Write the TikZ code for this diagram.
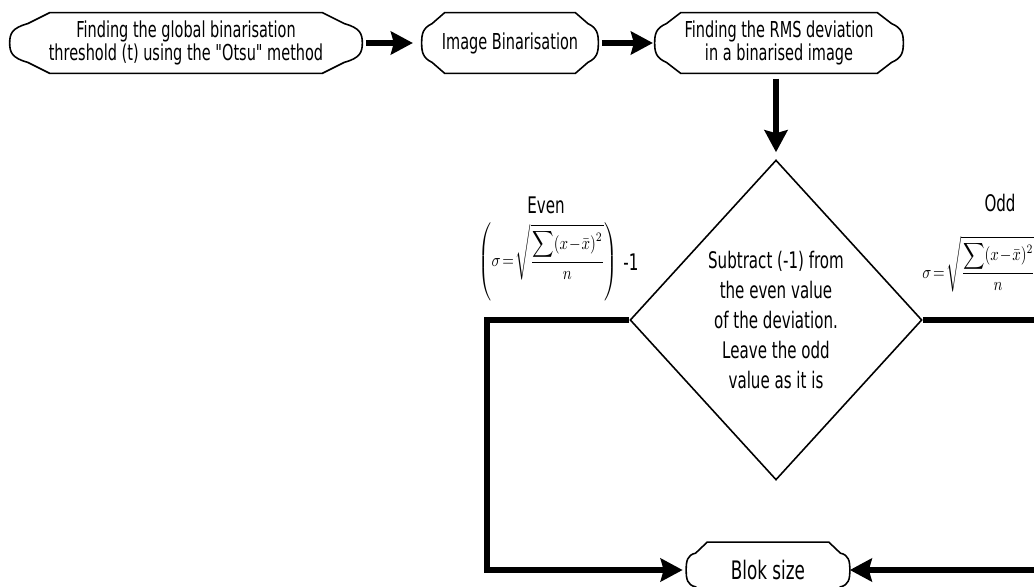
\documentclass[tikz,border=0pt]{standalone}
\usepackage{fontspec}
\usepackage{graphicx}
\setmainfont{DejaVu Sans}[FakeStretch=0.66, Ligatures=TeXOff]
\usetikzlibrary{shapes.geometric,arrows.meta,calc,positioning}

\tikzset{
  term/.style={align=center, inner sep=0pt, minimum height=1.2cm,
               font=\fontsize{12.5}{12.6}\selectfont},
  termline/.style={line width=0.9pt},
  decide/.style={diamond, draw, line width=0.9pt, align=center, inner sep=0pt,
                 minimum width=5.84cm, minimum height=6.4cm,
                 font=\fontsize{13}{17}\selectfont},
  flow/.style={line width=3.4pt, -{Stealth[length=0.44cm,width=0.46cm,inset=0.06cm]}},
  caseword/.style={font=\fontsize{13}{15}\selectfont, inner sep=1pt},
  formula/.style={inner sep=0pt, font=\fontsize{10}{12}\selectfont},
}

% deviation formula used for both cases
\newcommand{\rmsdev}{\sigma\!=\!\sqrt{\frac{\displaystyle\sum\nolimits(x\!-\!\bar{x})^2}{n}}}

% rounded terminal outline round a node: #1 node, #2 inset (px)
\newcommand{\termframe}[2]{%
  \draw[termline]
    ($(#1.north west)+(#2,0)$) -- ($(#1.north east)+(-#2,0)$)
    -- ($(#1.north east)+(-0.45*#2,11)$)
    .. controls ($(#1.east)+(-0.05*#2,-15)$) and ($(#1.east)+(0,-9)$) .. (#1.east)
    .. controls ($(#1.east)+(0,9)$) and ($(#1.east)+(-0.05*#2,15)$) .. ($(#1.south east)+(-0.45*#2,-11)$)
    -- ($(#1.south east)+(-#2,0)$) -- ($(#1.south west)+(#2,0)$)
    -- ($(#1.south west)+(0.45*#2,-11)$)
    .. controls ($(#1.west)+(0.05*#2,15)$) and ($(#1.west)+(0,9)$) .. (#1.west)
    .. controls ($(#1.west)+(0,-9)$) and ($(#1.west)+(0.05*#2,-15)$) .. ($(#1.north west)+(0.45*#2,11)$)
    -- cycle;}

\begin{document}
\begin{tikzpicture}[x=0.02cm,y=-0.02cm]
  % page frame
  \useasboundingbox (0,0) rectangle (1034,587);
  \clip (0,0) rectangle (1034,587);

  % top row
  \node[term, minimum width=7.04cm] (otsu) at (186,43)
    {Finding the global binarisation\\threshold (t) using the "Otsu" method};
  \node[term, minimum width=3.52cm] (binar) at (510,43) {Image Binarisation};
  \node[term, minimum width=4.96cm] (rms) at (779,43)
    {Finding the RMS deviation\\in a binarised image};
  \termframe{otsu}{40}
  \termframe{binar}{23}
  \termframe{rms}{26}

  % decision
  \node[decide] (parity) at (776,320)
    {Subtract (-1) from\\the even value\\of the deviation.\\Leave the odd\\value as it is};

  % result
  \node[term, minimum width=3.26cm, minimum height=1.1cm,
        font=\fontsize{14.5}{16}\selectfont] (blok) at (768,570) {Blok size};
  \termframe{blok}{21}

  % even case
  \node[formula] (evenf) at (548,262)
    {\scalebox{0.85}[1.05]{$\displaystyle\left(\rmsdev\right)$}};
  \node[caseword, right=2pt of evenf] (minus) {-1};
  \node[caseword] (even) at (546,205) {Even};

  % odd case
  \node[formula, anchor=west] (oddf) at (922,264)
    {\scalebox{0.85}[1.05]{$\displaystyle\rmsdev$}};
  \node[caseword] (odd) at (1000,203) {Odd};

  % arrows
  \draw[flow, shorten <=2pt, shorten >=5pt] (otsu) -- (binar);
  \draw[flow, shorten <=2pt, shorten >=1pt] (binar) -- (rms);
  \draw[flow, shorten <=3pt, shorten >=4pt] (parity.north |- rms.south) -- (parity.north);
  \draw[flow, shorten >=2pt] (parity.west) -- ++(-142,0) |- (blok.west);
  \draw[flow] (parity.east) -- ++(150,0) |- (blok.east);
\end{tikzpicture}
\end{document}
